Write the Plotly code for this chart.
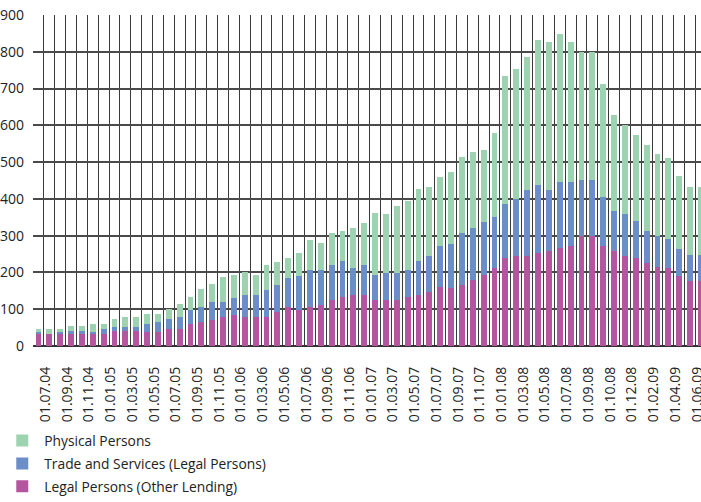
import plotly.graph_objects as go

categories = [
    "01.07.04", "01.08.04", "01.09.04", "01.10.04", "01.11.04", "01.12.04",
    "01.01.05", "01.02.05", "01.03.05", "01.04.05", "01.05.05", "01.06.05",
    "01.07.05", "01.08.05", "01.09.05", "01.10.05", "01.11.05", "01.12.05",
    "01.01.06", "01.02.06", "01.03.06", "01.04.06", "01.05.06", "01.06.06",
    "01.07.06", "01.08.06", "01.09.06", "01.10.06", "01.11.06", "01.12.06",
    "01.01.07", "01.02.07", "01.03.07", "01.04.07", "01.05.07", "01.06.07",
    "01.07.07", "01.08.07", "01.09.07", "01.10.07", "01.11.07", "01.12.07",
    "01.01.08", "01.02.08", "01.03.08", "01.04.08", "01.05.08", "01.06.08",
    "01.07.08", "01.08.08", "01.09.08", "15.09.08", "01.10.08", "01.11.08",
    "01.12.08", "01.01.09", "01.02.09", "01.03.09", "01.04.09", "01.05.09",
    "01.06.09", "01.07.09",
]

legal_other = [
    33, 32, 33, 33, 33, 33, 33, 40, 40, 40, 37, 37, 45, 45, 59, 64, 70, 78, 84, 78,
    78, 78, 92, 105, 97, 105, 111, 124, 132, 138, 138, 124, 124, 124, 132, 138, 146, 160, 157, 165,
    179, 192, 212, 239, 244, 244, 253, 258, 266, 272, 299, 299, 272, 258, 244, 239, 225, 214, 212, 190,
    176, 176,
]
trade_services = [
    5, 0, 4, 7, 7, 4, 13, 11, 11, 11, 22, 27, 28, 33, 38, 41, 49, 41, 46, 60,
    60, 74, 73, 79, 93, 101, 95, 96, 98, 73, 82, 68, 74, 74, 74, 92, 98, 111, 120, 142,
    141, 145, 139, 147, 156, 180, 185, 166, 180, 174, 152, 152, 133, 109, 115, 101, 87, 85, 79, 73,
    71, 71,
]
physical = [
    9, 14, 9, 14, 14, 22, 13, 22, 27, 27, 27, 22, 27, 36, 35, 49, 49, 68, 63, 63,
    55, 68, 63, 55, 62, 82, 73, 87, 82, 109, 114, 169, 160, 182, 188, 196, 188, 188, 196, 207,
    207, 196, 229, 349, 354, 362, 395, 403, 403, 381, 349, 349, 308, 262, 242, 234, 234, 223, 221, 199,
    185, 185,
]

y_ticks = [0, 100, 200, 300, 400, 500, 600, 700, 800, 900]

# (name, values, colour, legend rank)
series = [
    ("Legal Persons (Other Lending)", legal_other, "#b4569f", 3),
    ("Trade and Services (Legal Persons)", trade_services, "#6b8dc8", 2),
    ("Physical Persons", physical, "#9dd3b1", 1),
]

x_idx = list(range(len(categories)))

fig = go.Figure()
for name, vals, col, rank in series:
    fig.add_trace(go.Bar(
        x=x_idx, y=vals, name=name, legendgroup=name, legendrank=rank,
        marker=dict(color=col, line=dict(width=0)),
    ))

label_idx = x_idx[::2]
fig.update_layout(
    width=701, height=502,
    margin=dict(l=33, r=0, t=15, b=156),
    barmode="stack", bargap=0.46,
    plot_bgcolor="white", paper_bgcolor="white",
    font=dict(family="Open Sans, Noto Sans, sans-serif", size=14, color="#222"),
    showlegend=True,
    legend=dict(
        x=-0.049, y=-0.2387, xanchor="left", yanchor="top",
        traceorder="grouped", tracegroupgap=2, itemwidth=34,
        font=dict(size=13.8), bgcolor="rgba(0,0,0,0)",
    ),
    xaxis=dict(
        range=[-0.5, 61.01], automargin=False,
        tickmode="array",
        tickvals=[i + 0.64 for i in label_idx],
        ticktext=[categories[i] for i in label_idx],
        tickangle=-90, showgrid=False, zeroline=False,
        ticks="", ticklabelstandoff=14, ticklabeloverflow="allow",
        showline=True, linecolor="#333", linewidth=1.3,
        minor=dict(tickmode="linear", tick0=-0.5, dtick=1, showgrid=True,
                   gridcolor="#3a3a3a", gridwidth=1.3, ticks=""),
    ),
    yaxis=dict(
        range=[0, 900], automargin=False, tickmode="array", tickvals=y_ticks,
        showgrid=True, gridcolor="#4a4a4a", gridwidth=1.6,
        zeroline=True, zerolinecolor="#333", zerolinewidth=1.6,
        ticks="", ticklabelstandoff=8,
    ),
)

fig.write_html(
    "out.html",
    config={"displayModeBar": False},
    post_script="document.body.style.margin='0px';document.body.style.overflow='hidden';",
)
